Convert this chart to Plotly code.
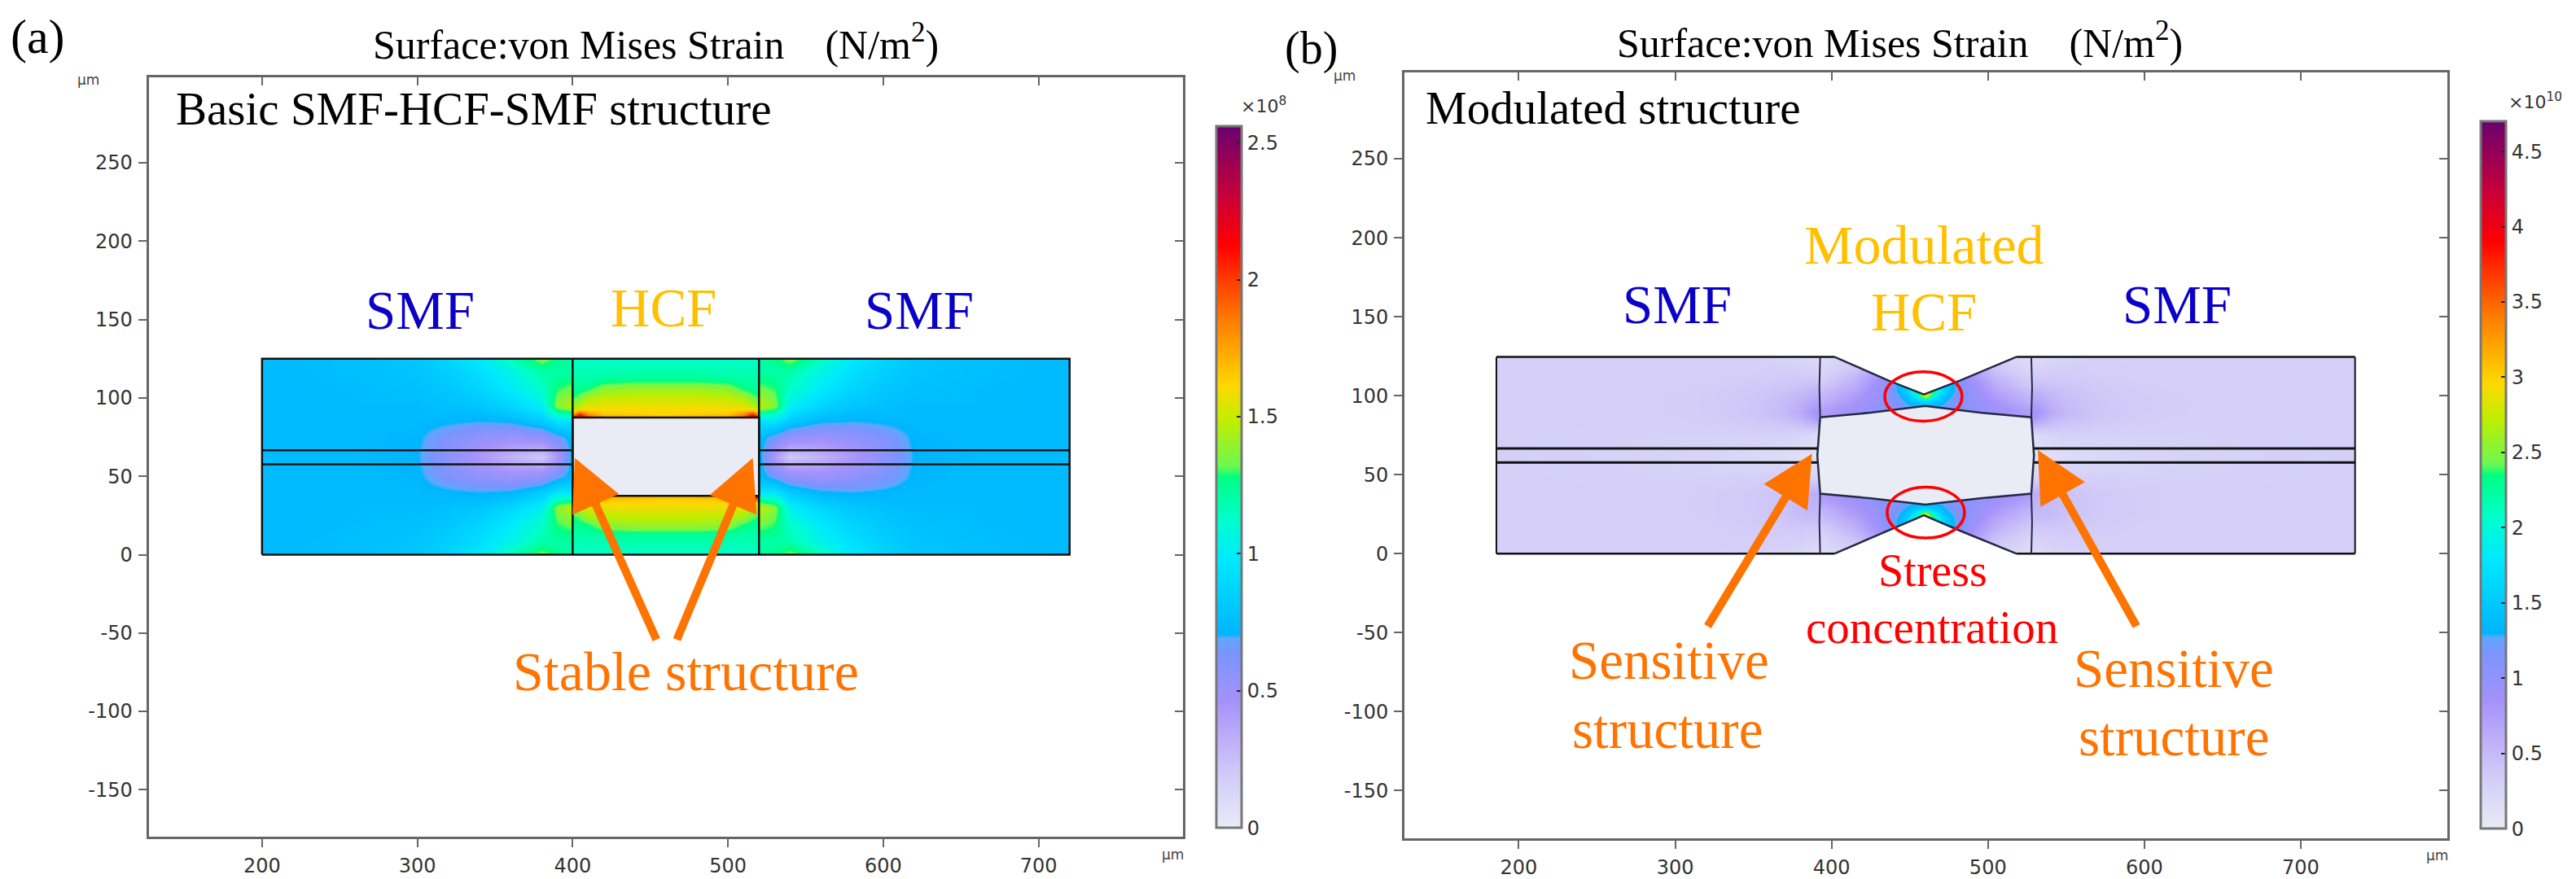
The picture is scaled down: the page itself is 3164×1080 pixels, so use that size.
import plotly.graph_objects as go

W, H = 3164, 1080

# ---------- data ----------
x_ticks = [200, 300, 400, 500, 600, 700]
y_ticks = [-150, -100, -50, 0, 50, 100, 150, 200, 250]
x_range_a = [127, 793]
y_range_a = [-180, 304.7]
x_range_b = [126.9, 793.7]
y_range_b = [-180.4, 304.5]

cbar_a_ticks = [0, 0.5, 1, 1.5, 2, 2.5]
cbar_b_ticks = [0, 0.5, 1, 1.5, 2, 2.5, 3, 3.5, 4, 4.5]
cmax_a = 2.56
cmax_b = 4.70

# panel (a) SMF field, unit 1e8
a_smf_x = [200, 260, 300, 320, 340, 360, 380, 390, 400]
a_smf_y = [0, 8, 20, 30, 40, 50, 62.5, 75, 85, 95, 105, 117, 125]
a_smf_z = [
    [.74, .76, .80, .88, .98, 1.15, 1.35, 1.25, 1.20],
    [.74, .76, .79, .85, .93, 1.05, 1.20, 1.20, 1.20],
    [.74, .75, .77, .80, .87, .98, 1.12, 1.30, 1.35],
    [.74, .75, .75, .77, .80, .88, 1.02, 1.38, 1.48],
    [.74, .74, .74, .72, .70, .72, .82, .95, .95],
    [.74, .74, .72, .62, .55, .50, .55, .66, .75],
    [.74, .74, .71, .55, .42, .30, .20, .42, .75],
    [.74, .74, .72, .62, .55, .50, .55, .66, .75],
    [.74, .74, .74, .72, .70, .72, .82, .95, .95],
    [.74, .75, .75, .77, .80, .88, 1.02, 1.38, 1.48],
    [.74, .75, .77, .80, .87, .98, 1.12, 1.30, 1.35],
    [.74, .76, .79, .85, .93, 1.05, 1.20, 1.20, 1.20],
    [.74, .76, .80, .88, .98, 1.15, 1.35, 1.25, 1.20],
]
a_smf_right_x = [520, 530, 540, 560, 580, 600, 620, 660, 720]

# panel (a) HCF field above the hollow core
a_hcf_x = [400, 404, 410, 420, 440, 460, 480, 500, 510, 516, 520]
a_hcf_top_y = [87.5, 90, 93, 97, 101, 105, 108, 112, 118, 125]
a_hcf_bot_y = [37.5, 35, 32, 28, 24, 20, 17, 13, 7, 0]
a_hcf_z = [
    [2.20, 2.25, 1.95, 1.72, 1.70, 1.68, 1.70, 1.72, 1.95, 2.25, 2.20],
    [1.75, 2.05, 1.80, 1.66, 1.64, 1.62, 1.64, 1.66, 1.80, 2.05, 1.75],
    [1.45, 1.55, 1.60, 1.60, 1.60, 1.60, 1.60, 1.60, 1.60, 1.55, 1.45],
    [1.36, 1.42, 1.50, 1.54, 1.55, 1.55, 1.55, 1.54, 1.50, 1.42, 1.36],
    [1.28, 1.32, 1.42, 1.47, 1.49, 1.49, 1.49, 1.47, 1.42, 1.32, 1.28],
    [1.25, 1.26, 1.30, 1.40, 1.43, 1.43, 1.43, 1.40, 1.30, 1.26, 1.25],
    [1.22, 1.22, 1.24, 1.33, 1.36, 1.36, 1.36, 1.33, 1.24, 1.22, 1.22],
    [1.20, 1.20, 1.20, 1.22, 1.24, 1.24, 1.24, 1.22, 1.20, 1.20, 1.20],
    [1.17, 1.17, 1.17, 1.17, 1.18, 1.18, 1.18, 1.17, 1.17, 1.17, 1.17],
    [1.14, 1.13, 1.13, 1.13, 1.13, 1.13, 1.13, 1.13, 1.13, 1.13, 1.14],
]

# panel (b) SMF field, unit 1e10
b_smf_x = [185.7, 260, 320, 350, 370, 380, 388, 392.7]
b_smf_y = [0, 12, 25, 38, 50, 62, 75, 86, 90, 100, 112, 124.5]
b_smf_z = [
    [.30, .30, .30, .28, .25, .22, .18, .15],
    [.30, .30, .30, .32, .33, .33, .30, .30],
    [.30, .30, .32, .36, .42, .48, .50, .50],
    [.30, .30, .32, .36, .42, .48, .60, .60],
    [.30, .29, .28, .28, .28, .26, .22, .20],
    [.30, .28, .25, .20, .16, .12, .10, .10],
    [.30, .29, .28, .28, .28, .25, .20, .15],
    [.30, .30, .32, .38, .46, .55, .72, .85],
    [.30, .30, .33, .40, .50, .62, .80, .85],
    [.30, .30, .33, .38, .45, .52, .60, .62],
    [.30, .30, .30, .32, .34, .34, .34, .32],
    [.30, .30, .30, .28, .25, .22, .18, .15],
]
b_smf_right_x = [527.7, 532.4, 540.4, 550.4, 570.4, 600.4, 660.4, 734.7]

# panel (b) modulated HCF field
b_hcf_x = [392.7, 400, 415, 430, 440, 448, 454, 460, 466, 472, 480, 490, 505, 520, 527.7]
b_hcf_top_y = [84, 88, 91, 94, 97, 100, 103, 106, 110, 116, 124.5]
b_hcf_bot_y = [41, 37, 34, 31, 28, 25, 22, 19, 15, 9, 0]
b_hcf_z = [
    [.75, .80, .90, 1.0, 1.0, 1.10, 1.15, 1.20, 1.15, 1.10, 1.0, 1.0, .90, .80, .75],
    [.75, .80, .90, 1.0, 1.0, 1.10, 1.15, 1.20, 1.15, 1.10, 1.0, 1.0, .90, .80, .75],
    [.70, .76, .88, 1.02, 1.05, 1.15, 1.20, 1.25, 1.20, 1.15, 1.05, 1.02, .88, .76, .70],
    [.62, .70, .85, 1.0, 1.08, 1.25, 1.35, 1.45, 1.35, 1.25, 1.08, 1.0, .85, .70, .62],
    [.55, .62, .80, .98, 1.12, 1.32, 1.50, 1.70, 1.50, 1.32, 1.12, .98, .80, .62, .55],
    [.50, .58, .75, .97, 1.17, 1.42, 1.85, 2.90, 1.85, 1.42, 1.17, .97, .75, .58, .50],
    [.45, .52, .68, .95, 1.20, 1.55, 2.20, 3.40, 2.20, 1.55, 1.20, .95, .68, .52, .45],
    [.38, .45, .62, .92, 1.22, 1.60, 2.20, 3.20, 2.20, 1.60, 1.22, .92, .62, .45, .38],
    [.30, .38, .55, .85, 1.20, 1.50, 1.70, 1.90, 1.70, 1.50, 1.20, .85, .55, .38, .30],
    [.20, .28, .42, .72, .95, 1.05, 1.10, 1.10, 1.10, 1.05, .95, .72, .42, .28, .20],
    [.15, .20, .30, .45, .55, .60, .60, .60, .60, .60, .55, .45, .30, .20, .15],
]

# outlines
a_box_x = [200, 720, 720, 200, 200]
a_box_y = [0, 0, 125, 125, 0]
a_hole_x = [400, 520, 520, 400, 400]
a_hole_y = [37.5, 37.5, 87.5, 87.5, 37.5]
core_y = [66.6, 57.6]

b_notch_top_x = [402, 436.5, 459, 482, 518, 518, 402, 402]
b_notch_top_y = [124.5, 109.5, 100.7, 109.5, 124.5, 130, 130, 124.5]
b_notch_bot_x = [402, 436.5, 459, 482, 518, 518, 402, 402]
b_notch_bot_y = [0, 14.5, 24.2, 14.5, 0, -5, -5, 0]
b_hole_x = [392.7, 425, 459.9, 495, 527.7, 529.4, 527.7, 495, 459.9, 425, 392.7, 390.9, 392.7]
b_hole_y = [86.3, 89.2, 93.5, 89.2, 86.3, 62, 37.9, 35, 31, 35, 37.9, 62, 86.3]
b_left_wall_x = [392.7, 392.2, 392.7]
b_left_wall_y = [124.5, 105, 86.3]
b_left_wall2_y = [37.9, 20, 0]
b_right_wall_x = [527.7, 528.2, 527.7]
b_edge_top_x = [185.7, 402]
b_edge_top2_x = [518, 734.7]
b_left_end = 185.7
b_right_end = 734.7

colorscale = [
    [0.00, "#e9ebf6"], [0.08, "#d0c8f8"], [0.18, "#a592fa"], [0.25, "#7a94ff"],
    [0.27, "#5ea8ff"], [0.276, "#00b4ff"], [0.38, "#00e8ff"], [0.44, "#00ffcc"],
    [0.50, "#00ff80"], [0.515, "#6cf850"], [0.58, "#c0ee00"], [0.63, "#ffd800"],
    [0.72, "#ff8000"], [0.79, "#ff3000"], [0.83, "#ff0000"], [0.90, "#c80038"],
    [1.00, "#6a0070"],
]

HOLE = "#e9ebf5"
LINE = "#111111"
ORANGE = "#ff7300"
BLUE = "#0a00c8"
GOLD = "#ffc000"
RED = "#ff0000"
FRAME = "#666666"


def px(v):
    return v / W


def py(v):
    return 1 - v / H


fig = go.Figure()


def edged(v):
    # keep the heatmap's half-cell overhang negligible at both ends of an axis
    s0 = 0.2 if v[1] > v[0] else -0.2
    return [v[0], v[0] + s0] + list(v[1:-1]) + [v[-1] - s0, v[-1]]


def heat(x, y, z, ca, xa, ya):
    zz = [[r[0]] + list(r) + [r[-1]] for r in z]
    zz = [zz[0]] + zz + [zz[-1]]
    fig.add_trace(go.Heatmap(x=edged(x), y=edged(y), z=zz, coloraxis=ca, zsmooth="best",
                             xaxis=xa, yaxis=ya, hoverinfo="skip"))


def path(x, y, xa, ya, width=2.5, color=LINE, fill=None):
    fig.add_trace(go.Scatter(x=x, y=y, mode="lines", xaxis=xa, yaxis=ya,
                             line=dict(color=color, width=width),
                             fill="toself" if fill else None,
                             fillcolor=fill, hoverinfo="skip", showlegend=False))


# ---- panel a ----
heat(a_smf_x, a_smf_y, a_smf_z, "coloraxis", "x", "y")
heat(a_smf_right_x, a_smf_y, [r[::-1] for r in a_smf_z], "coloraxis", "x", "y")
heat(a_hcf_x, a_hcf_top_y, a_hcf_z, "coloraxis", "x", "y")
heat(a_hcf_x, a_hcf_bot_y, a_hcf_z, "coloraxis", "x", "y")
path(a_hole_x, a_hole_y, "x", "y", fill=HOLE)
path(a_box_x, a_box_y, "x", "y")
path([400, 400], [0, 125], "x", "y")
path([520, 520], [0, 125], "x", "y")
for c in core_y:
    path([200, 400], [c, c], "x", "y")
    path([520, 720], [c, c], "x", "y")

# ---- panel b ----
heat(b_smf_x, b_smf_y, b_smf_z, "coloraxis2", "x2", "y2")
heat(b_smf_right_x, b_smf_y, [r[::-1] for r in b_smf_z], "coloraxis2", "x2", "y2")
heat(b_hcf_x, b_hcf_top_y, b_hcf_z, "coloraxis2", "x2", "y2")
heat(b_hcf_x, b_hcf_bot_y, b_hcf_z, "coloraxis2", "x2", "y2")
path(b_hole_x, b_hole_y, "x2", "y2", fill=HOLE, width=2.5, color="#222a44")
fig.add_trace(go.Scatter(x=b_notch_top_x, y=b_notch_top_y, mode="none", fill="toself",
                         fillcolor="white", xaxis="x2", yaxis="y2", hoverinfo="skip", showlegend=False))
fig.add_trace(go.Scatter(x=b_notch_bot_x, y=b_notch_bot_y, mode="none", fill="toself",
                         fillcolor="white", xaxis="x2", yaxis="y2", hoverinfo="skip", showlegend=False))
path(b_notch_top_x[:5], b_notch_top_y[:5], "x2", "y2", color="#222a44")
path(b_notch_bot_x[:5], b_notch_bot_y[:5], "x2", "y2", color="#222a44")
path(b_edge_top_x, [124.5, 124.5], "x2", "y2")
path(b_edge_top2_x, [124.5, 124.5], "x2", "y2")
path(b_edge_top_x, [0, 0], "x2", "y2")
path(b_edge_top2_x, [0, 0], "x2", "y2")
path([b_left_end, b_left_end], [0, 124.5], "x2", "y2", width=2)
path([b_right_end, b_right_end], [0, 124.5], "x2", "y2", width=2)
path(b_left_wall_x, b_left_wall_y, "x2", "y2", width=2, color="#222a44")
path(b_left_wall_x, b_left_wall2_y, "x2", "y2", width=2, color="#222a44")
path(b_right_wall_x, b_left_wall_y, "x2", "y2", width=2, color="#222a44")
path(b_right_wall_x, b_left_wall2_y, "x2", "y2", width=2, color="#222a44")
for c in core_y:
    path([b_left_end, 391], [c, c], "x2", "y2", width=3)
    path([529.4, b_right_end], [c, c], "x2", "y2", width=3)

# traces that keep the inward-ticked top/right axes alive
for xa, ya in (("x3", "y3"), ("x4", "y4")):
    fig.add_trace(go.Scatter(x=[None], y=[None], xaxis=xa, yaxis=ya, mode="lines",
                             showlegend=False, hoverinfo="skip"))

tickfont = dict(family="DejaVu Sans", size=24, color="#333333")


def base_axis(rng, ticks):
    return dict(range=rng, tickmode="array", tickvals=ticks, ticktext=[str(t) for t in ticks],
                showgrid=False, zeroline=False, showline=True, linecolor=FRAME, linewidth=3,
                ticks="outside", ticklen=10, tickwidth=2, tickcolor=FRAME, tickfont=tickfont,
                ticklabelstandoff=2)


def top_axis(over, anchor, rng, ticks, side):
    return dict(range=rng, tickmode="array", tickvals=ticks, showticklabels=False, overlaying=over,
                anchor=anchor, side=side, showgrid=False, zeroline=False, showline=True,
                linecolor=FRAME, linewidth=3, ticks="inside", ticklen=10, tickwidth=2, tickcolor=FRAME)


dom_xa = [px(182.6), px(1453)]
dom_ya = [py(1031), py(95)]
dom_xb = [px(1725), px(3006)]
dom_yb = [py(1033), py(89.6)]


def colorbar(xleft, ytop, ybot, ticks):
    return dict(x=px(xleft), xanchor="left", xpad=0, ypad=0, y=py(ybot), yanchor="bottom",
                len=(ybot - ytop) / H, lenmode="fraction", thickness=31, thicknessmode="pixels",
                outlinecolor="#777777", outlinewidth=3, tickmode="array", tickvals=ticks,
                ticktext=[str(t) for t in ticks],
                ticks="inside", ticklen=7, tickwidth=2, tickcolor="#222222",
                tickfont=tickfont)


fig.update_layout(
    width=W, height=H, margin=dict(l=0, r=0, t=0, b=0), autosize=False,
    paper_bgcolor="white", plot_bgcolor="white", showlegend=False,
    xaxis=dict(domain=dom_xa, anchor="y", **base_axis(x_range_a, x_ticks)),
    yaxis=dict(domain=dom_ya, anchor="x", **base_axis(y_range_a, y_ticks)),
    xaxis2=dict(domain=dom_xb, anchor="y2", **base_axis(x_range_b, x_ticks)),
    yaxis2=dict(domain=dom_yb, anchor="x2", **base_axis(y_range_b, y_ticks)),
    xaxis3=top_axis("x", "y3", x_range_a, x_ticks, "top"),
    yaxis3=top_axis("y", "x3", y_range_a, y_ticks, "right"),
    xaxis4=top_axis("x2", "y4", x_range_b, x_ticks, "top"),
    yaxis4=top_axis("y2", "x4", y_range_b, y_ticks, "right"),
    coloraxis=dict(colorscale=colorscale, cmin=0, cmax=cmax_a,
                   colorbar=colorbar(1494, 156, 1020, cbar_a_ticks)),
    coloraxis2=dict(colorscale=colorscale, cmin=0, cmax=cmax_b,
                    colorbar=colorbar(3047, 150, 1021, cbar_b_ticks)),
)

# red ellipses
fig.add_shape(type="circle", xref="x2", yref="y2", x0=434, x1=483.4, y0=83.8, y1=115.1,
              line=dict(color=RED, width=3.5))
fig.add_shape(type="circle", xref="x2", yref="y2", x0=435.5, x1=485, y0=9.8, y1=42.1,
              line=dict(color=RED, width=3.5))


def label(text, x, y, size, color="black", anchor="center", family="Liberation Serif"):
    fig.add_annotation(text=text, x=px(x), y=py(y), xref="paper", yref="paper", showarrow=False,
                       xanchor=anchor, yanchor="middle", font=dict(family=family, size=size, color=color))


TITLE = "Surface:von Mises Strain\u00a0\u00a0\u00a0\u00a0(N/m<sup>2</sup>)"
label("(a)", 46, 45, 60)
label(TITLE, 456, 52, 50, anchor="left")
label("(b)", 1610, 60, 56)
label(TITLE, 1984, 50, 50, anchor="left")
label("Basic SMF-HCF-SMF structure", 214, 134, 57, anchor="left")
label("Modulated structure", 1749, 133, 57, anchor="left")
label("SMF", 516, 382, 67, BLUE)
label("HCF", 815, 379, 67, GOLD)
label("SMF", 1129, 382, 67, BLUE)
label("Stable structure", 842, 827, 68, ORANGE)
label("SMF", 2060, 375, 67, BLUE)
label("Modulated", 2363, 302, 68, GOLD)
label("HCF", 2363, 384, 67, GOLD)
label("SMF", 2674, 375, 67, BLUE)
label("Stress", 2374, 703, 56, RED)
label("concentration", 2373, 773, 57, RED)
label("Sensitive", 2050, 813, 67, ORANGE)
label("structure", 2048, 898, 67, ORANGE)
label("Sensitive", 2670, 823, 67, ORANGE)
label("structure", 2670, 908, 67, ORANGE)
label("\u03bcm", 109, 98, 17, "#444444", family="DejaVu Sans")
label("\u03bcm", 1440, 1053, 17, "#444444", family="DejaVu Sans")
label("\u03bcm", 1651, 93, 17, "#444444", family="DejaVu Sans")
label("\u03bcm", 2993, 1054, 17, "#444444", family="DejaVu Sans")
label("\u00d710<sup>8</sup>", 1552, 129, 22, "#333333", family="DejaVu Sans")
label("\u00d710<sup>10</sup>", 3114, 124, 22, "#333333", family="DejaVu Sans")


def arrow(xa, ya, tail, tip):
    fig.add_annotation(text="", x=tip[0], y=tip[1], ax=tail[0], ay=tail[1], xref=xa, yref=ya,
                       axref=xa, ayref=ya, showarrow=True, arrowhead=2, arrowsize=1.25,
                       arrowwidth=10, arrowcolor=ORANGE, standoff=0)


arrow("x", "y", (454.3, -55), (401.4, 61.7))
arrow("x", "y", (466.8, -55), (516, 61.7))
arrow("x2", "y2", (320.3, -46.8), (387.5, 63.2))
arrow("x2", "y2", (595.4, -46.8), (531.9, 65.5))

fig.write_html("out.html", config={"displayModeBar": False},
               post_script="document.body.style.margin='0';document.body.style.overflow='hidden';")
